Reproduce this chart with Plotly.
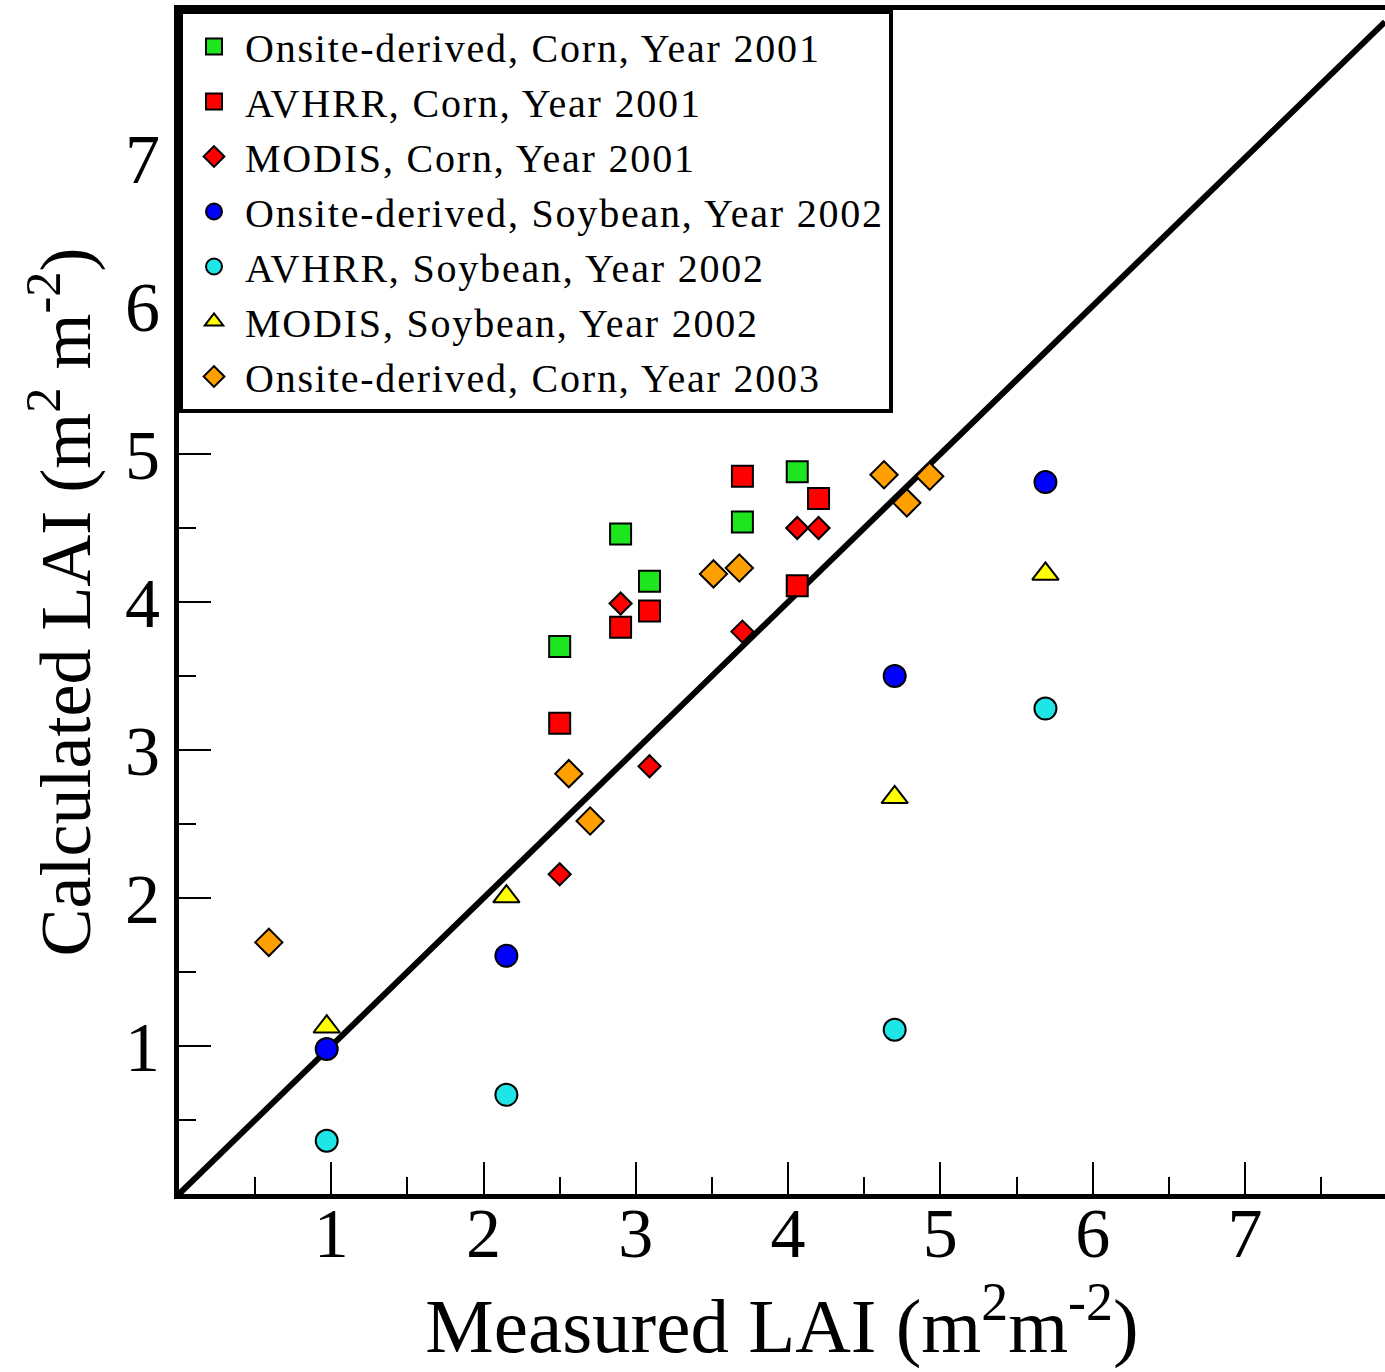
import plotly.graph_objects as go

# ---- data ----
oc01_x = [2.50, 2.90, 3.09, 3.70, 4.06]
oc01_y = [3.70, 4.46, 4.14, 4.54, 4.88]

ac01_x = [2.50, 2.90, 3.09, 3.70, 4.06, 4.20]
ac01_y = [3.18, 3.83, 3.94, 4.85, 4.11, 4.70]

mc01_x = [2.50, 2.90, 3.09, 3.70, 4.06, 4.20]
mc01_y = [2.16, 3.99, 2.89, 3.80, 4.50, 4.50]

os02_x = [0.97, 2.15, 4.70, 5.69]
os02_y = [0.98, 1.61, 3.50, 4.81]

as02_x = [0.97, 2.15, 4.70, 5.69]
as02_y = [0.36, 0.67, 1.11, 3.28]

ms02_x = [0.97, 2.15, 4.70, 5.69]
ms02_y = [1.13, 2.01, 2.68, 4.19]

oc03_x = [0.59, 2.56, 2.70, 3.51, 3.68, 4.63, 4.78, 4.93]
oc03_y = [1.70, 2.84, 2.52, 4.19, 4.23, 4.86, 4.67, 4.85]

x_max = 7.92
y_max = 8.0
one_to_one = [0, x_max]
major_ticks = [1, 2, 3, 4, 5, 6, 7]
minor_ticks = [0.5, 1.5, 2.5, 3.5, 4.5, 5.5, 6.5, 7.5]

series = [
    ("Onsite-derived, Corn, Year 2001", oc01_x, oc01_y, "square", "#1ee61e", 21),
    ("AVHRR, Corn, Year 2001", ac01_x, ac01_y, "square", "#ff0000", 21),
    ("MODIS, Corn, Year 2001", mc01_x, mc01_y, "diamond", "#ff0000", 17),
    ("Onsite-derived, Soybean, Year 2002", os02_x, os02_y, "circle", "#0000ff", 22),
    ("AVHRR, Soybean, Year 2002", as02_x, as02_y, "circle", "#1ee6e6", 22),
    ("MODIS, Soybean, Year 2002", ms02_x, ms02_y, "triangle-up", "#ffff00", 23),
    ("Onsite-derived, Corn, Year 2003", oc03_x, oc03_y, "diamond", "#ffa000", 21),
]

fig = go.Figure()
fig.add_trace(go.Scatter(x=one_to_one, y=one_to_one, mode="lines",
                         line=dict(color="black", width=6), showlegend=False,
                         hoverinfo="skip"))
for name, xs, ys, sym, col, sz in series:
    fig.add_trace(go.Scatter(
        x=xs, y=ys, mode="markers",
        name="<span style='letter-spacing:1.8px'>" + name + "</span>",
        marker=dict(symbol=sym, color=col, size=sz,
                    line=dict(color="black", width=2)),
        cliponaxis=False))

serif = "Liberation Serif, Times New Roman, serif"
axis_common = dict(
    showgrid=False, zeroline=False, showline=True, linecolor="black",
    linewidth=5, ticks="inside", ticklen=32, tickwidth=2, tickcolor="black",
    tickmode="array", tickvals=major_ticks,
    tickfont=dict(family=serif, size=70, color="black"),
    minor=dict(tickmode="array", tickvals=minor_ticks, ticks="inside",
               ticklen=17, tickwidth=2, tickcolor="black", showgrid=False),
)

fig.update_layout(
    width=1385, height=1372,
    margin=dict(l=179, r=0, t=10, b=178, pad=0),
    paper_bgcolor="white", plot_bgcolor="white",
    showlegend=True,
    legend=dict(x=0, y=1, xanchor="left", yanchor="top",
                bordercolor="black", borderwidth=4, bgcolor="white",
                font=dict(family=serif, size=40, color="black"),
                itemwidth=52, tracegroupgap=0),
    xaxis=dict(range=[0, x_max], mirror=True, ticklabelstandoff=-26,
               title=dict(text="Measured LAI (m<sup>2</sup>m<sup>-2</sup>)",
                          font=dict(family=serif, size=77, color="black"),
                          standoff=10),
               **axis_common),
    yaxis=dict(range=[0, y_max], mirror=False, ticklabelstandoff=0,
               title=dict(text="Calculated LAI (m<sup>2</sup> m<sup>-2</sup>)",
                          font=dict(family=serif, size=72, color="black"),
                          standoff=12),
               **axis_common),
)

fig.write_html("out.html",
               config={"displayModeBar": False},
               post_script="document.body.style.margin='0';"
                           "document.body.style.overflow='hidden';")
